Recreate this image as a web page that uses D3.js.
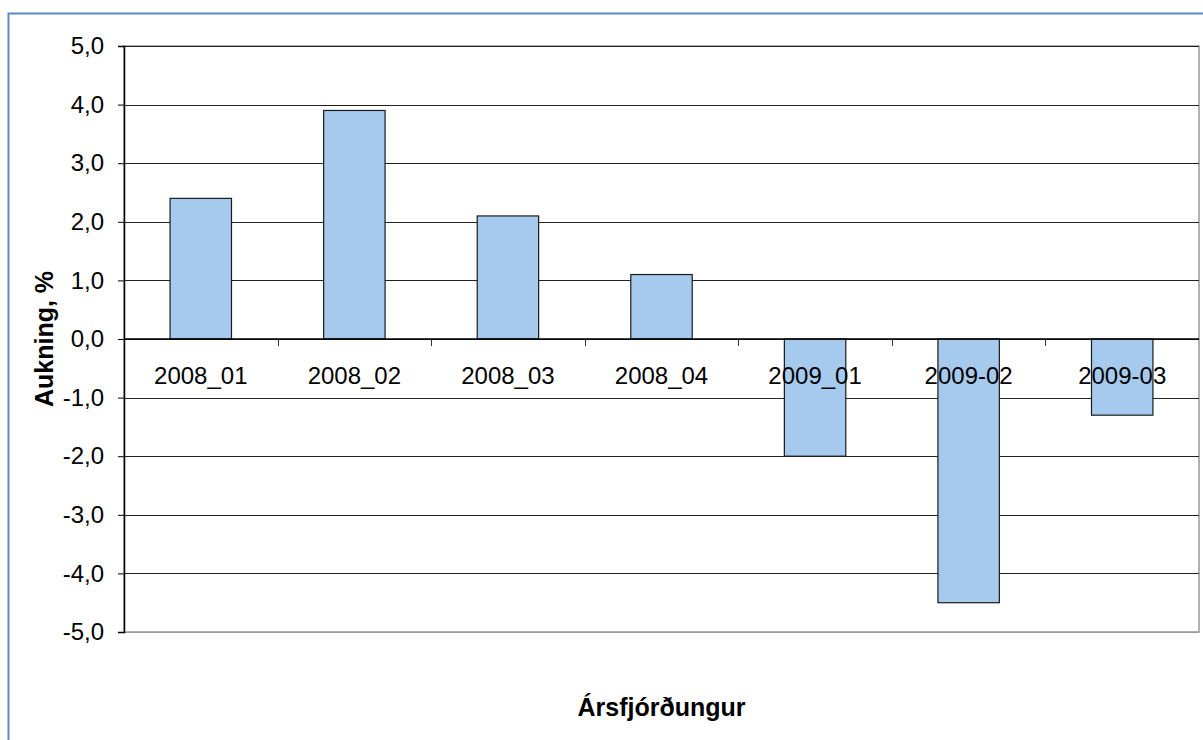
<!DOCTYPE html>
<html lang="is">
<head>
<meta charset="utf-8">
<title>Aukning</title>
<script src="https://d3js.org/d3.v7.min.js"></script>
<style>
  body { margin: 0; background: #fff; }
  svg { display: block; font-family: "Liberation Sans", Arial, sans-serif; }
</style>
</head>
<body>
<div id="chart"></div>
<script>
// gögn lesin af myndinni
const categories = ["2008_01", "2008_02", "2008_03", "2008_04", "2009_01", "2009-02", "2009-03"];
const values = [2.4, 3.9, 2.1, 1.1, -2.0, -4.5, -1.3];
const yTicks = [5, 4, 3, 2, 1, 0, -1, -2, -3, -4, -5];

const width = 1203, height = 740;
const plotLeft = 124, plotRight = 1199, plotTop = 46, plotBottom = 632;

const svg = d3.select("#chart").append("svg")
  .attr("width", width)
  .attr("height", height);

// ytri rammi
svg.append("rect")
  .attr("x", 8.5).attr("y", 13.5)
  .attr("width", 1220).attr("height", 760)
  .attr("fill", "none")
  .attr("stroke", "#5a8acb")
  .attr("stroke-width", 2);

const x = d3.scaleBand().domain(categories).range([plotLeft, plotRight]).padding(0);
const y = d3.scaleLinear().domain([-5, 5]).range([plotBottom, plotTop]);

// rammi um teiknisvæði
svg.append("rect")
  .attr("x", plotLeft).attr("y", plotTop)
  .attr("width", plotRight - plotLeft).attr("height", plotBottom - plotTop)
  .attr("fill", "none")
  .attr("stroke", "#999")
  .attr("stroke-width", 1.5);

// hnitalínur
svg.append("g")
  .selectAll("line")
  .data(yTicks)
  .join("line")
  .attr("x1", plotLeft).attr("x2", plotRight)
  .attr("y1", d => Math.round(y(d)) + 0.5)
  .attr("y2", d => Math.round(y(d)) + 0.5)
  .attr("stroke", d => d === -5 ? "#999" : "#222")
  .attr("stroke-width", 1);

// súlur
const barW = x.bandwidth() * 0.4;
svg.append("g")
  .selectAll("rect")
  .data(values)
  .join("rect")
  .attr("x", (d, i) => x(categories[i]) + x.bandwidth() / 2 - barW / 2)
  .attr("y", d => y(Math.max(0, d)))
  .attr("width", barW)
  .attr("height", d => Math.abs(y(d) - y(0)))
  .attr("fill", "#a6caee")
  .attr("stroke", "#1a1a1a")
  .attr("stroke-width", 1.2);

// y-ás
const yAxis = d3.axisLeft(y)
  .tickValues(yTicks)
  .tickSize(6)
  .tickPadding(14)
  .tickFormat(d => d3.format(".1f")(d).replace(".", ",").replace("−", "-"));

svg.append("g")
  .attr("transform", `translate(${plotLeft},0)`)
  .call(yAxis)
  .call(g => g.select(".domain").attr("stroke", "#000").attr("stroke-width", 1.5))
  .call(g => g.selectAll(".tick line").attr("stroke", "#000"))
  .call(g => g.selectAll("text").attr("font-size", 24).attr("fill", "#000"));

// x-ás á núlllínunni
svg.append("g")
  .selectAll("line")
  .data(categories.slice(1))
  .join("line")
  .attr("x1", d => Math.round(x(d)) + 0.5)
  .attr("x2", d => Math.round(x(d)) + 0.5)
  .attr("y1", y(0))
  .attr("y2", y(0) + 7)
  .attr("stroke", "#333");

svg.append("line")
  .attr("x1", plotLeft).attr("x2", plotRight)
  .attr("y1", y(0)).attr("y2", y(0))
  .attr("stroke", "#000").attr("stroke-width", 1.5);

svg.append("g")
  .selectAll("text")
  .data(categories)
  .join("text")
  .attr("x", d => x(d) + x.bandwidth() / 2)
  .attr("y", y(0) + 45)
  .attr("text-anchor", "middle")
  .attr("font-size", 24)
  .text(d => d);

// titlar ása
svg.append("text")
  .attr("transform", `translate(53,${(plotTop + plotBottom) / 2}) rotate(-90)`)
  .attr("text-anchor", "middle")
  .attr("font-size", 25)
  .attr("font-weight", "bold")
  .text("Aukning, %");

svg.append("text")
  .attr("x", (plotLeft + plotRight) / 2)
  .attr("y", 716)
  .attr("text-anchor", "middle")
  .attr("font-size", 25)
  .attr("font-weight", "bold")
  .text("Ársfjórðungur");
</script>
</body>
</html>
